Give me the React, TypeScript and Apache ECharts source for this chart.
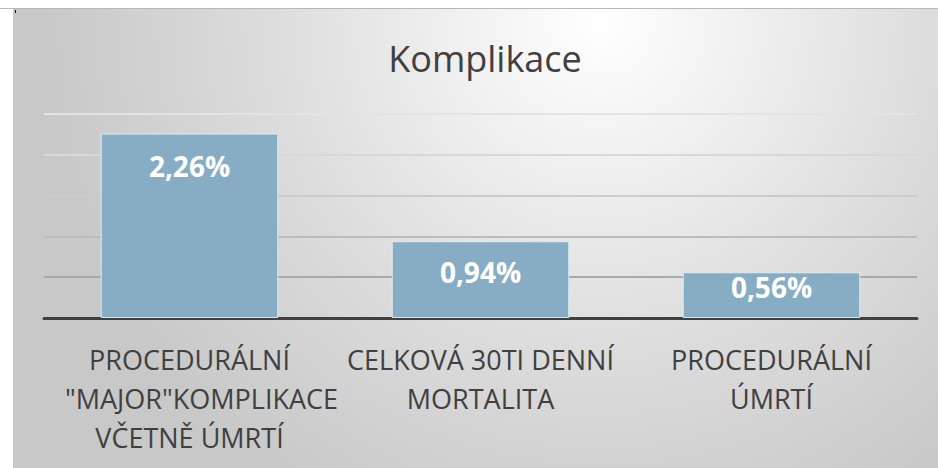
import React, { useEffect, useRef } from "react";
import * as echarts from "echarts";

const chartTitle = "Komplikace";
const categories = [
  'PROCEDURÁLNÍ\n"MAJOR"KOMPLIKACE\nVČETNĚ ÚMRTÍ',
  "CELKOVÁ 30TI DENNÍ\nMORTALITA",
  "PROCEDURÁLNÍ\nÚMRTÍ",
];
const values = [2.26, 0.94, 0.56];
const yMin = 0;
const yMax = 2.5;
const yStep = 0.5;

export default function App() {
  const ref = useRef<HTMLDivElement>(null);

  useEffect(() => {
    if (!ref.current) return;
    const chart = echarts.init(ref.current, undefined, { renderer: "svg" });
    const labelDistances = [18, 17, 1];
    chart.setOption({
      animation: false,
      backgroundColor: "transparent",
      title: {
        text: chartTitle,
        left: 480,
        top: 35,
        textAlign: "center",
        textStyle: {
          fontFamily: "Open Sans",
          fontSize: 36,
          fontWeight: "normal",
          color: "#404040",
        },
      },
      grid: { left: 44, right: 21, top: 114, bottom: 150, containLabel: false },
      xAxis: {
        type: "category",
        data: categories,
        axisLine: { show: true, lineStyle: { color: "#404040", width: 3 } },
        axisTick: { show: false },
        axisLabel: {
          interval: 0,
          margin: 22,
          fontFamily: "Open Sans",
          fontSize: 27,
          lineHeight: 39,
          color: "#404040",
          formatter: (v: string) =>
            v
              .split("\n")
              .map((line) => (line.startsWith('"') ? `{shift|${line}}` : line))
              .join("\n"),
          rich: {
            shift: {
              fontFamily: "Open Sans",
              fontSize: 27,
              lineHeight: 39,
              color: "#404040",
              padding: [0, 0, 0, 24],
            },
          },
        },
      },
      yAxis: {
        type: "value",
        min: yMin,
        max: yMax,
        interval: yStep,
        axisLabel: { show: false },
        axisLine: { show: false },
        axisTick: { show: false },
        splitLine: {
          show: true,
          lineStyle: {
            width: 2,
            color: ["#404040", "#a9a9a9", "#bcbcbc", "#cbcbcb", "#d8d8d8", "#e3e3e3"],
          },
        },
      },
      series: [
        {
          type: "bar",
          barWidth: "61%",
          data: values.map((v, i) => ({
            value: v,
            label: { distance: labelDistances[i] },
          })),
          itemStyle: {
            color: "#87adc4",
            borderColor: "rgba(225,238,245,0.9)",
            borderWidth: 1,
          },
          label: {
            show: true,
            position: "insideTop",
            fontFamily: "Open Sans",
            fontSize: 28,
            lineHeight: 28,
            fontWeight: "bold",
            color: "#ffffff",
            formatter: (p: any) => p.value.toFixed(2).replace(".", ",") + "%",
          },
        },
      ],
    });
    return () => chart.dispose();
  }, []);

  return (
    <div
      style={{
        position: "fixed",
        left: 0,
        top: 0,
        width: 938,
        height: 468,
        background: "#ffffff",
        overflow: "hidden",
      }}
    >
      <div
        style={{
          position: "absolute",
          left: 0,
          top: 8,
          width: 938,
          height: 1,
          background: "#b8b8b8",
        }}
      />
      <div
        style={{
          position: "absolute",
          left: 13,
          top: 9,
          width: 925,
          height: 459,
          background:
            "radial-gradient(circle 560px at 587px 11px, #ffffff 0%, #dcdcdc 60%, #c8c8c8 100%)",
        }}
      />
      <div
        style={{
          position: "absolute",
          left: 15,
          top: 10,
          width: 1,
          height: 3,
          background: "#000000",
        }}
      />
      <div
        ref={ref}
        style={{ position: "absolute", left: 0, top: 0, width: 938, height: 468 }}
      />
    </div>
  );
}
